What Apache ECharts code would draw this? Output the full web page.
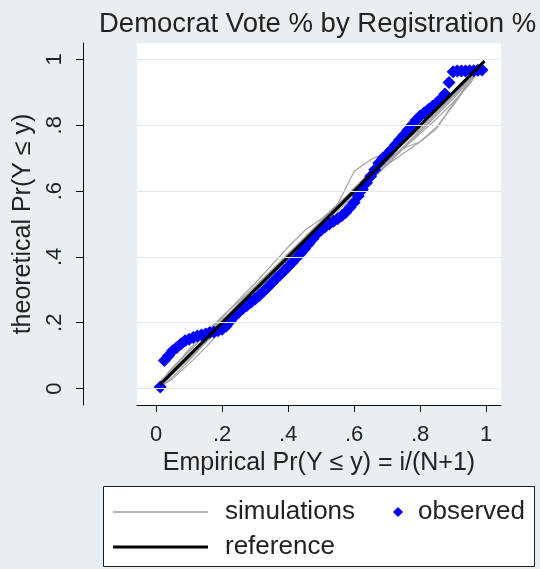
<!DOCTYPE html>
<html>
<head>
<meta charset="utf-8">
<script src="https://cdn.jsdelivr.net/npm/echarts@6/dist/echarts.min.js"></script>
<style>html,body{margin:0;padding:0;background:#e8eef1;}#c{width:540px;height:569px;}</style>
</head>
<body>
<div id="c"></div>
<script>
// Tick labels
var xTicks = [0, 0.2, 0.4, 0.6, 0.8, 1];
var yTicks = [0, 0.2, 0.4, 0.6, 0.8, 1];

// Observed: empirical x = i/(N+1), theoretical y
var obsX = [0.0125,0.025,0.0375,0.05,0.0625,0.075,0.0875,0.1,0.1125,0.125,0.1375,0.15,0.1625,0.175,0.1875,0.2,0.2125,0.225,0.2375,0.25,0.2625,0.275,0.2875,0.3,0.3125,0.325,0.3375,0.35,0.3625,0.375,0.3875,0.4,0.4125,0.425,0.4375,0.45,0.4625,0.475,0.4875,0.5,0.5125,0.525,0.5375,0.55,0.5625,0.575,0.5875,0.6,0.6125,0.625,0.6375,0.65,0.6625,0.675,0.6875,0.7,0.7125,0.725,0.7375,0.75,0.7625,0.775,0.7875,0.8,0.8125,0.825,0.8375,0.85,0.8625,0.875,0.8875,0.9,0.9125,0.925,0.9375,0.95,0.9625,0.975,0.9875];
var obsY = [0.005,0.085,0.10,0.115,0.125,0.135,0.145,0.15,0.155,0.16,0.163,0.166,0.17,0.172,0.176,0.18,0.19,0.205,0.22,0.232,0.243,0.252,0.262,0.272,0.283,0.295,0.307,0.32,0.333,0.345,0.357,0.37,0.383,0.397,0.41,0.425,0.44,0.455,0.47,0.482,0.492,0.50,0.508,0.516,0.525,0.536,0.55,0.565,0.585,0.605,0.625,0.645,0.665,0.685,0.70,0.712,0.725,0.74,0.755,0.77,0.785,0.80,0.815,0.828,0.838,0.848,0.858,0.868,0.88,0.895,0.93,0.963,0.965,0.965,0.965,0.966,0.966,0.967,0.968];

// Simulations (sampled)
var simX = [0.0125,0.05,0.10,0.15,0.20,0.25,0.30,0.35,0.40,0.45,0.50,0.55,0.60,0.65,0.70,0.75,0.80,0.85,0.90,0.95,0.9875];
var sim1 = [0.01,0.045,0.095,0.15,0.205,0.26,0.31,0.36,0.41,0.46,0.51,0.56,0.66,0.695,0.72,0.76,0.805,0.85,0.895,0.945,0.985];
var sim2 = [0.015,0.06,0.11,0.165,0.215,0.27,0.32,0.375,0.43,0.48,0.515,0.56,0.605,0.655,0.70,0.745,0.79,0.84,0.89,0.94,0.985];
var sim3 = [0.005,0.035,0.085,0.14,0.19,0.24,0.29,0.34,0.39,0.445,0.495,0.545,0.59,0.635,0.68,0.715,0.75,0.795,0.86,0.93,0.98];
var sim4 = [0.005,0.03,0.075,0.125,0.18,0.235,0.29,0.345,0.395,0.45,0.50,0.55,0.60,0.645,0.69,0.735,0.78,0.83,0.88,0.935,0.98];
var sim5 = [0.02,0.065,0.115,0.16,0.21,0.255,0.305,0.355,0.405,0.455,0.505,0.55,0.595,0.64,0.685,0.735,0.785,0.835,0.885,0.94,0.985];
var sim6 = [0.01,0.055,0.10,0.145,0.195,0.245,0.30,0.355,0.405,0.45,0.495,0.54,0.585,0.63,0.68,0.73,0.775,0.82,0.87,0.925,0.98];
var sim7 = [0.012,0.06,0.12,0.17,0.22,0.265,0.31,0.36,0.41,0.455,0.505,0.555,0.61,0.66,0.71,0.755,0.80,0.845,0.89,0.945,0.99];
var sim8 = [0.008,0.045,0.09,0.14,0.195,0.25,0.305,0.355,0.40,0.445,0.495,0.545,0.595,0.645,0.69,0.73,0.75,0.79,0.865,0.935,0.985];
var sims = [sim1, sim2, sim3, sim4, sim5, sim6, sim7, sim8];

// Reference line endpoints
var refX = [0.012, 0.995];
var refY = [0.012, 0.995];

var FONT = 'Liberation Sans';
function fmt(v){ if (v === 0) return '0'; if (v === 1) return '1'; return String(+v.toFixed(1)).replace(/^0/, ''); }
function pairs(xs, ys){ return xs.map(function(x,i){ return [x, ys[i]]; }); }

var series = [];
series.push({
  type: 'line', name: '_grid', data: [], silent: true,
  markLine: { silent: true, symbol: ['none','none'], label: {show:false},
    lineStyle: { color: '#e1e9ee', width: 1, type: 'solid' },
    data: yTicks.map(function(v){ return { yAxis: v }; }) },
  z: 1
});
sims.forEach(function(s){
  series.push({ type:'line', name:'simulations', data: pairs(simX, s), symbol:'none', showSymbol:false,
    lineStyle:{ color:'#a3a3a3', width:1.2 }, itemStyle:{color:'#a3a3a3'}, z:2, animation:false });
});
series.push({ type:'scatter', name:'observed', data: pairs(obsX, obsY), symbol:'diamond', symbolSize:13,
  itemStyle:{ color:'#0000ff', opacity:1 }, z:3, animation:false });
series.push({ type:'line', name:'reference', data: pairs(refX, refY), symbol:'none', showSymbol:false,
  lineStyle:{ color:'#000000', width:3 }, itemStyle:{color:'#000'}, z:4, animation:false });

var legendText = { fontFamily: FONT, fontSize: 26, color: '#222', lineHeight: 25, padding: [0,0,0,12] };

var chart = echarts.init(document.getElementById('c'), null, {renderer:'canvas'});
chart.setOption({
  backgroundColor: '#e8eef1',
  animation: false,
  textStyle: { fontFamily: FONT },
  title: { text: 'Democrat Vote % by Registration %', left: 99, top: 10, padding: 0,
    textStyle: { fontFamily: FONT, fontSize: 27.5, fontWeight: 'normal', color: '#222' } },
  grid: { left: 137, top: 43, width: 364, height: 362, show: true, backgroundColor: '#ffffff', borderWidth: 0, containLabel: false },
  xAxis: {
    type: 'value', min: -0.058, max: 1.045,
    name: 'Empirical Pr(Y \u2264 y) = i/(N+1)', nameLocation: 'middle', nameGap: 40,
    nameTextStyle: { fontFamily: FONT, fontSize: 25, color: '#222' },
    axisLine: { show: true, onZero: false, lineStyle: { color: '#111', width: 1 } },
    axisTick: { show: true, customValues: xTicks, length: 7, lineStyle: { color: '#111' } },
    axisLabel: { customValues: xTicks, formatter: fmt, fontFamily: FONT, fontSize: 22, color: '#222', margin: 19 },
    splitLine: { show: false }
  },
  yAxis: {
    type: 'value', min: -0.05, max: 1.05, offset: 54,
    name: 'theoretical Pr(Y \u2264 y)', nameLocation: 'middle', nameGap: 46, nameRotate: 90,
    nameTextStyle: { fontFamily: FONT, fontSize: 25, color: '#222' },
    axisLine: { show: true, onZero: false, lineStyle: { color: '#111', width: 1 } },
    axisTick: { show: true, customValues: yTicks, length: 7, lineStyle: { color: '#111' } },
    axisLabel: { customValues: yTicks, formatter: fmt, rotate: 90, fontFamily: FONT, fontSize: 22, color: '#222', margin: 17 },
    splitLine: { show: false }
  },
  legend: [
    { data: [{ name: 'simulations', icon: 'rect', itemStyle: { color: '#b4b4b4' } }], orient: 'vertical', left: 113, top: 499, padding: 0,
      itemWidth: 95, itemHeight: 2, textStyle: legendText },
    { data: [{ name: 'reference', icon: 'rect', itemStyle: { color: '#000' } }], orient: 'vertical', left: 113, top: 534, padding: 0,
      itemWidth: 95, itemHeight: 3, textStyle: legendText },
    { data: [{ name: 'observed', icon: 'diamond' }], orient: 'horizontal', left: 393, top: 499, padding: 0,
      itemWidth: 10, itemHeight: 10,
      textStyle: { fontFamily: FONT, fontSize: 26, color: '#222', lineHeight: 25, padding: [0,0,0,10] } }
  ],
  graphic: [
    { type: 'rect', z: -1, shape: { x: 103.5, y: 486.5, width: 431, height: 80 },
      style: { fill: '#ffffff', stroke: '#1a1a1a', lineWidth: 1 } }
  ],
  series: series
});
</script>
</body>
</html>
